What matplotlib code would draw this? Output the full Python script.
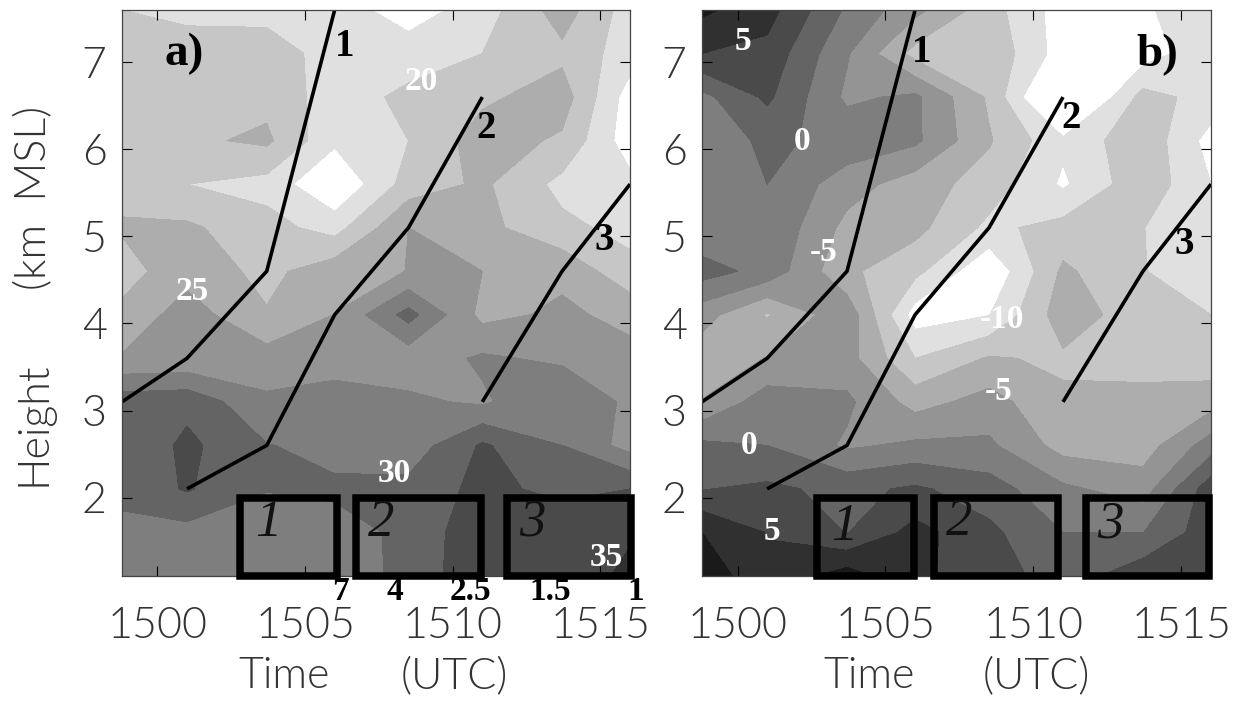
import matplotlib
matplotlib.use("Agg")
import matplotlib.pyplot as plt
from matplotlib.colors import ListedColormap, BoundaryNorm
from matplotlib.patches import Rectangle
import numpy as np

W, H = 1243, 702
times = [1498.8, 1501, 1503.7, 1506, 1508.5, 1511, 1513.7, 1516]
heights = [7.6, 7.1, 6.6, 6.1, 5.6, 5.1, 4.6, 4.1, 3.6, 3.1, 2.6, 2.1, 1.6, 1.1]

field_a = [
    [20, 19, 19, 18.75, 16.25, 18.75, 23.75, 18.75],
    [21.75, 21.75, 21.5, 18.75, 18.75, 20, 21.9, 18.75],
    [21.75, 21.75, 21.75, 18.75, 20.6, 22, 23.75, 16.25],
    [21.75, 22, 23, 18, 20, 23.75, 22.1, 16.05],
    [21.75, 20, 19.1, 15, 21.1, 22.95, 19.25, 18.25],
    [22.75, 22.95, 20.9, 19, 25, 23.25, 20.6, 19.25],
    [21.5, 24, 21.8, 24, 25.05, 25, 24.4, 20.75],
    [23.1, 26.25, 22.7, 25.05, 30.95, 24.25, 25.5, 24.25],
    [25.25, 25.5, 26.1, 26.5, 26, 27.9, 27, 25.8],
    [31.4, 31.75, 27.95, 28.5, 28, 27.1, 29.95, 26.9],
    [30.25, 33.1, 30.1, 29.25, 28.5, 32.85, 30, 26.5],
    [30.75, 32.75, 30.1, 30.4, 30.75, 33.25, 31.75, 32.5],
    [29.25, 29.1, 28.75, 29.1, 30.5, 34.5, 34.5, 34.95],
    [28.25, 28.25, 28.5, 29, 30.5, 34.75, 34.75, 35.1],
]
field_b = [
    [8, 6, -0.4, -4.25, -8.9, -13.75, -13, -10.25],
    [5, 4.25, -2.25, -8.4, -8, -13.75, -13.75, -10.75],
    [-0.75, 3, -3, -2, -7.9, -18, -9.1, -10.9],
    [-1.5, 0.5, -0.75, -2, -7.25, -12, -8.15, -13.5],
    [-1.75, 0, -3.9, -6.25, -8.65, -12.9, -8.25, -12.5],
    [-2, -0.25, -5.75, -6.75, -10.6, -9.1, -9.95, -11.75],
    [1.05, -0.85, -7, -9.25, -14.75, -7, -9.9, -11.5],
    [-3.95, -7.75, -3.3, -13.75, -12.6, -6.1, -8.9, -10],
    [-6.5, -4.9, -4, -10, -7.25, -7.9, -8.25, -9],
    [-4.9, -1.1, -2, -6, -4, -7.1, -6.9, -6.1],
    [0.6, 0, -2.9, -2, -2.05, -6, -6.25, -1.25],
    [2.4, 3, 1.8, 2.9, 1.15, -2, -3.7, 4],
    [7.5, 4.9, 2.4, 5.9, 3.1, 0, -0.05, 4],
    [9.25, 5.5, 8.75, 5.4, 4, 1, 4.25, 4.5],
]
levels_a = [10, 17.5, 20, 22.5, 25, 27.5, 30, 32.5, 35, 37.5, 40]
levels_b = [-20, -12.5, -10, -7.5, -5, -2.5, 0, 2.5, 5, 7.5, 12]
grays = ["#ffffff", "#e0e0e0", "#c6c6c6", "#adadad", "#949494",
         "#7e7e7e", "#646464", "#4a4a4a", "#303030", "#1a1a1a"]

line1_t, line1_h = [1498.8, 1501, 1503.7, 1506], [3.1, 3.6, 4.6, 7.6]
line2_t, line2_h = [1501, 1503.7, 1506, 1508.5, 1511], [2.1, 2.6, 4.1, 5.1, 6.6]
line3_t, line3_h = [1511, 1513.7, 1516], [3.1, 4.6, 5.6]

xticks = [1500, 1505, 1510, 1515]
yticks = [2, 3, 4, 5, 6, 7]
THIN = {"family": ["Lato", "DejaVu Sans"], "weight": 300}
SERIF = ["Liberation Serif", "DejaVu Serif"]

fig = plt.figure(figsize=(W / 100, H / 100), dpi=100, facecolor="white")

def place(left, right):
    return fig.add_axes([left / W, 1 - 576 / H, (right - left) / W, 566 / H])

def px_text(x, y, s, **kw):
    kw.setdefault("family", SERIF)
    kw.setdefault("ha", "center")
    kw.setdefault("va", "center")
    fig.text(x / W, 1 - y / H, s, zorder=20, **kw)

def box(x0, x1, y0=498, y1=576):
    fig.add_artist(Rectangle((x0 / W, 1 - y1 / H), (x1 - x0) / W, (y1 - y0) / H,
                             transform=fig.transFigure, fill=False, ec="black",
                             lw=5.4, zorder=15, joinstyle="miter"))

panels = [(place(122, 630), field_a, levels_a), (place(702, 1211), field_b, levels_b)]
for ax, field, levels in panels:
    ax.contourf(times, heights, np.array(field), levels=levels,
                cmap=ListedColormap(grays), norm=BoundaryNorm(levels, 10))
    for t, h in [(line1_t, line1_h), (line2_t, line2_h), (line3_t, line3_h)]:
        ax.plot(t, h, color="black", lw=2.6, solid_capstyle="butt", solid_joinstyle="miter")
    ax.set_xlim(1498.8, 1516)
    ax.set_ylim(1.1, 7.6)
    ax.set_xticks(xticks)
    ax.set_yticks(yticks)
    ax.tick_params(direction="in", length=7.5, width=0.8, top=True, right=True, labelsize=31)
    ax.tick_params(axis="x", pad=22)
    ax.tick_params(axis="y", pad=11)
    for lab in ax.get_xticklabels() + ax.get_yticklabels():
        lab.set_fontfamily(THIN["family"])
        lab.set_fontweight(THIN["weight"])
        lab.set_color("#333333")
    for s in ax.spines.values():
        s.set_linewidth(0.9)
        s.set_color("#444444")

label_style = dict(fontsize=31, color="#333333", **THIN)
px_text(34, 424, "Height", rotation=90, **label_style)
px_text(34, 198, "(km  MSL)", rotation=90, **label_style)
for x, s in [(284, "Time"), (454, "(UTC)"), (869, "Time"), (1036, "(UTC)")]:
    px_text(x, 677, s, **label_style)

for x0, x1 in [(240, 337), (356, 481), (507, 631), (817, 914), (934, 1058), (1086, 1209)]:
    box(x0, x1)

px_text(184, 54, "a)", fontsize=34, weight="bold")
px_text(1157, 55, "b)", fontsize=34, weight="bold")

for x, y, s in [(345, 46, "1"), (486, 128, "2"), (604, 240, "3"),
                (922, 52, "1"), (1071, 118, "2"), (1184, 245, "3")]:
    px_text(x, y, s, fontsize=28, weight="bold")

for x, y, s in [(340, 591, "7"), (395, 591, "4"), (470, 591, "2.5"),
                (550, 592, "1.5"), (636, 591, "1")]:
    px_text(x, y, s, fontsize=24, weight="bold")

for x, y, s in [(421, 81, "20"), (192, 292, "25"), (394, 473, "30"), (606, 558, "35"),
                (743, 41, "5"), (802, 141, "0"), (824, 252, "-5"), (1002, 320, "-10"),
                (999, 392, "-5"), (749, 445, "0"), (772, 532, "5")]:
    px_text(x, y, s, fontsize=24, weight="bold", color="white")

for x, y, s in [(268, 523, "1"), (381, 523, "2"), (532, 523, "3"),
                (844, 527, "1"), (959, 522, "2"), (1110, 525, "3")]:
    px_text(x, y, s, fontsize=38, style="italic", color="#111111")

fig.savefig("out.png", dpi=100)
